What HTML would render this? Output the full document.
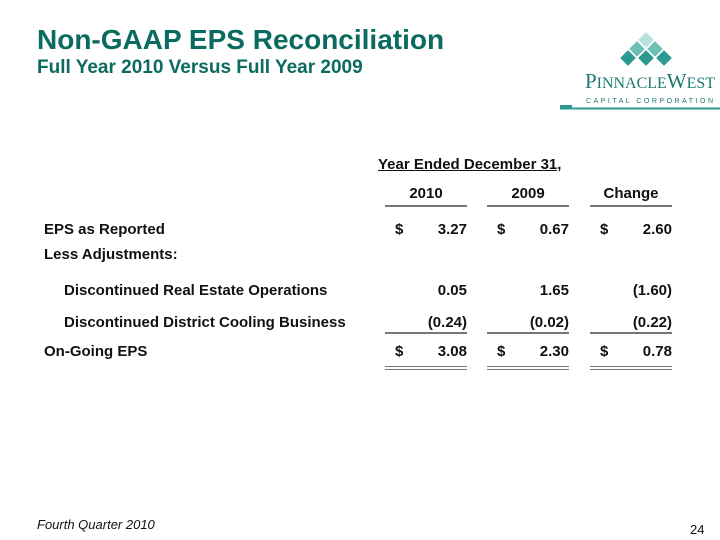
<!DOCTYPE html>
<html><head><meta charset="utf-8"><style>
body{margin:0;background:#fff}
#s{position:relative;width:720px;height:540px;overflow:hidden;font-family:"Liberation Sans",Arial,sans-serif;color:#111}
.a{position:absolute;white-space:nowrap}
.b{font-weight:bold;font-size:15px}
.r{text-align:right}
.ln{position:absolute;height:2px;background:#777}
</style></head><body>
<div id="s">
<div class="a" style="left:37px;top:24px;font-size:28px;font-weight:bold;color:#0b6b60">Non-GAAP EPS Reconciliation</div>
<div class="a" style="left:37px;top:57px;font-size:19px;font-weight:bold;color:#0b6b60">Full Year 2010 Versus Full Year 2009</div>

<svg class="a" style="left:560px;top:20px" width="160" height="92">
<g stroke="#fff" stroke-width="1.6">
<polygon points="86,11 95,20 86,29 77,20" fill="#b5e2dc"/>
<polygon points="77,20 86,29 77,38 68,29" fill="#6cc0b6"/>
<polygon points="95,20 104,29 95,38 86,29" fill="#6cc0b6"/>
<polygon points="68,29 77,38 68,47 59,38" fill="#2a9a90"/>
<polygon points="86,29 95,38 86,47 77,38" fill="#2a9a90"/>
<polygon points="104,29 113,38 104,47 95,38" fill="#2a9a90"/>
</g>
<text x="25" y="68" font-family="Liberation Serif,serif" font-size="21" fill="#1d7a70" textLength="130" lengthAdjust="spacingAndGlyphs">P<tspan font-size="16">INNACLE</tspan>W<tspan font-size="16">EST</tspan></text>
<text x="26" y="83" font-family="Liberation Sans,sans-serif" font-size="7" fill="#1d7a70" textLength="127" lengthAdjust="spacing">CAPITAL CORPORATION</text>
<rect x="0" y="85" width="12" height="3" fill="#2a9a90"/>
<rect x="0" y="87.5" width="160" height="2" fill="#2a9a90"/>
</svg>

<div class="a b" style="left:378px;top:156px;text-decoration:underline">Year Ended December 31,</div>
<div class="a b" style="left:385px;width:82px;top:185px;text-align:center">2010</div>
<div class="a b" style="left:487px;width:82px;top:185px;text-align:center">2009</div>
<div class="a b" style="left:590px;width:82px;top:185px;text-align:center">Change</div>
<div class="ln" style="left:385px;width:82px;top:205px"></div>
<div class="ln" style="left:487px;width:82px;top:205px"></div>
<div class="ln" style="left:590px;width:82px;top:205px"></div>

<div class="a b" style="left:44px;top:221px">EPS as Reported</div>
<div class="a b" style="left:44px;top:246px">Less Adjustments:</div>
<div class="a b" style="left:64px;top:282px">Discontinued Real Estate Operations</div>
<div class="a b" style="left:64px;top:314px">Discontinued District Cooling Business</div>
<div class="a b" style="left:44px;top:343px">On-Going EPS</div>

<div id="vals"></div>
<div class="ln" style="left:385px;width:82px;top:332px"></div>
<div class="ln" style="left:487px;width:82px;top:332px"></div>
<div class="ln" style="left:590px;width:82px;top:332px"></div>
<div class="ln" style="left:385px;width:82px;top:366px;height:1px"></div>
<div class="ln" style="left:487px;width:82px;top:366px;height:1px"></div>
<div class="ln" style="left:590px;width:82px;top:366px;height:1px"></div>
<div class="ln" style="left:385px;width:82px;top:369px;height:1px"></div>
<div class="ln" style="left:487px;width:82px;top:369px;height:1px"></div>
<div class="ln" style="left:590px;width:82px;top:369px;height:1px"></div>

<div class="a" style="left:37px;top:517px;font-size:13px;font-style:italic">Fourth Quarter 2010</div>
<div class="a" style="left:690px;top:522px;font-size:13px">24</div>
</div>
<script>
const col2010=["3.27","0.05","(0.24)","3.08"];
const col2009=["0.67","1.65","(0.02)","2.30"];
const colChange=["2.60","(1.60)","(0.22)","0.78"];
const rowTops=[221,282,314,343];
const dollarRows=[true,false,false,true];
const cols=[[col2010,385,'v2010'],[col2009,487,'v2009'],[colChange,590,'vchange']];
const host=document.getElementById('vals');
cols.forEach(([vals,x,nm])=>{
  vals.forEach((v,i)=>{
    const d=document.createElement('div');
    d.className='a b r';
    d.style.left=(x)+'px';d.style.width='82px';d.style.top=rowTops[i]+'px';
    d.textContent=v;
    
    
    host.appendChild(d);
    if(dollarRows[i]){
      const s=document.createElement('div');
      s.className='a b';
      s.style.left=(x+10)+'px';s.style.top=rowTops[i]+'px';
      s.textContent='$';
      
      
      host.appendChild(s);
    }
  });
});
</script>
</body></html>
